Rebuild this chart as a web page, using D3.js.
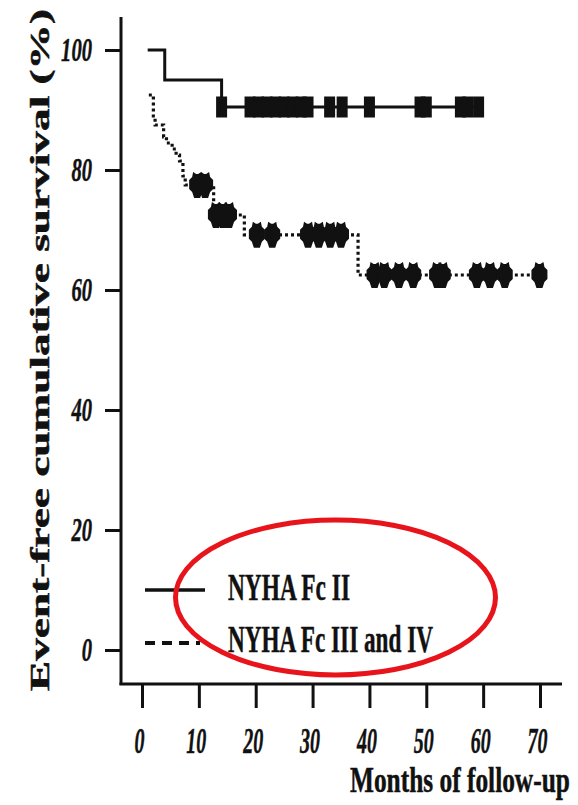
<!DOCTYPE html>
<html>
<head>
<meta charset="utf-8">
<script src="https://cdn.jsdelivr.net/npm/d3@7"></script>
<style>
  html, body { margin: 0; padding: 0; background: #fff; }
  svg { display: block; }
  text { font-family: "Liberation Serif", "Times New Roman", serif; fill: #111; stroke: #111; stroke-width: 0.5px; }
</style>
</head>
<body>
<svg id="chart" width="578" height="805"></svg>
<script>
// Kaplan-Meier step curves (months, event-free survival %)
const fc2Times = [1, 4, 14, 60];
const fc2Surv  = [100, 95, 90.5, 90.5];
const fc2Censored = [14, 19, 20.5, 22, 23.5, 25, 26.5, 28, 29.2, 33, 35.2, 40, 48.9, 50, 56, 57.3, 59.2];

const fc34Times = [1.2, 2.0, 2.3, 3.8, 4.3, 5.3, 6.0, 6.6, 7.2, 7.6, 12.6, 18.0, 38.0, 71.2];
const fc34Surv  = [92.5, 89, 87.5, 85.5, 84.5, 83.5, 82.5, 81.5, 79, 77.5, 72.5, 69.2, 62.5, 62.5];
const fc34Censored = [9.7, 11.1, 13, 14.2, 15.3, 20.2, 22.9, 29.2, 31.1, 33.1, 35,
                      40.9, 42.6, 45.2, 47.7, 51.9, 52.9, 58.9, 61.2, 63.8, 69.9];

const xTicks = [0, 10, 20, 30, 40, 50, 60, 70];
const yTicks = [0, 20, 40, 60, 80, 100];
const legendLabels = ["NYHA Fc II", "NYHA Fc III and IV"];
const xTitle = "Months of follow-up";
const yTitle = "Event-free cumulative survival (%)";

const svg = d3.select("#chart");
const x = d3.scaleLinear().domain([0, 70]).range([142, 540]);
const y = d3.scaleLinear().domain([0, 100]).range([650, 50]);

// survival value of a step curve at time t
function survAt(times, surv, t) {
  let v = surv[0];
  for (let i = 0; i < times.length; i++) if (times[i] <= t) v = surv[i];
  return v;
}

// condensed text: squeeze horizontally to a target width with a transform
function condensedText(parent, str, px, py, size, width, anchor) {
  const t = parent.append("text")
    .attr("font-size", size).attr("font-weight", "bold")
    .attr("text-anchor", anchor || "start")
    .text(str);
  const natural = t.node().getComputedTextLength();
  t.attr("transform", `translate(${px},${py}) scale(${width / natural},1)`);
  return t;
}

// axes lines
svg.append("line").attr("x1", 121).attr("x2", 121).attr("y1", 17).attr("y2", 685)
  .attr("stroke", "#111").attr("stroke-width", 3);
svg.append("line").attr("x1", 119.5).attr("x2", 562).attr("y1", 684).attr("y2", 684)
  .attr("stroke", "#111").attr("stroke-width", 3);

// y axis
const yAxis = svg.append("g").attr("transform", "translate(121,0)")
  .call(d3.axisLeft(y).tickValues(yTicks).tickSize(16).tickSizeOuter(0).tickPadding(13));
yAxis.select(".domain").remove();
yAxis.selectAll(".tick line").attr("stroke", "#111").attr("stroke-width", 3);
yAxis.selectAll(".tick text")
  .attr("font-family", "'Liberation Serif', 'Times New Roman', serif")
  .attr("font-size", 33).attr("font-weight", "bold").attr("font-style", "italic")
  .attr("fill", "#111").attr("dy", "0.33em")
  .attr("textLength", d => String(d).length * 10.3)
  .attr("lengthAdjust", "spacingAndGlyphs");

// x axis
const xAxis = svg.append("g").attr("transform", "translate(0,684)")
  .call(d3.axisBottom(x).tickValues(xTicks).tickSize(24).tickSizeOuter(0));
xAxis.select(".domain").remove();
xAxis.selectAll(".tick line").attr("stroke", "#111").attr("stroke-width", 3);
xAxis.selectAll(".tick text")
  .attr("font-family", "'Liberation Serif', 'Times New Roman', serif")
  .attr("font-size", 36).attr("font-weight", "bold").attr("font-style", "italic")
  .attr("fill", "#111").attr("y", 69).attr("dy", 0).attr("x", -3)
  .attr("textLength", d => String(d).length * 10)
  .attr("lengthAdjust", "spacingAndGlyphs");

// axis titles
svg.append("text")
  .attr("transform", "translate(49,350) rotate(-90)")
  .attr("text-anchor", "middle")
  .attr("font-size", 27).attr("font-weight", "bold")
  .attr("textLength", 682).attr("lengthAdjust", "spacingAndGlyphs")
  .text(yTitle);
condensedText(svg, xTitle, 350, 792, 36, 220);

// curves
const line = d3.line().x(d => x(d[0])).y(d => y(d[1])).curve(d3.curveStepAfter);
const fc2Pts = fc2Times.map((t, i) => [t, fc2Surv[i]]);
const fc34Pts = fc34Times.map((t, i) => [t, fc34Surv[i]]);

svg.append("path").datum(fc2Pts).attr("d", line)
  .attr("fill", "none").attr("stroke", "#111").attr("stroke-width", 3);
svg.append("path").datum(fc34Pts).attr("d", line)
  .attr("fill", "none").attr("stroke", "#111").attr("stroke-width", 3.2)
  .attr("stroke-dasharray", "3,3");

// censor marks: squares for Fc II
svg.append("g").selectAll("rect").data(fc2Censored).join("rect")
  .attr("x", d => x(d) - 5.5)
  .attr("y", d => y(survAt(fc2Times, fc2Surv, d)) - 10.5)
  .attr("width", 11).attr("height", 21)
  .attr("fill", "#111");

// censor marks: cross-shaped blobs for Fc III and IV
const crossPath = "M-4,-13 L-1,-11 L1,-11 L4,-13 L5,-8 L8,-5 L8,4 L5,7 L3,13 L-3,13 L-5,7 L-8,4 L-8,-5 L-5,-8 Z";
svg.append("g").selectAll("path").data(fc34Censored).join("path")
  .attr("transform", d => `translate(${x(d)},${y(survAt(fc34Times, fc34Surv, d))})`)
  .attr("d", crossPath)
  .attr("fill", "#111");

// legend
svg.append("line").attr("x1", 145).attr("x2", 205).attr("y1", 590).attr("y2", 590)
  .attr("stroke", "#111").attr("stroke-width", 3.5);
svg.append("line").attr("x1", 145).attr("x2", 200).attr("y1", 643).attr("y2", 643)
  .attr("stroke", "#111").attr("stroke-width", 4).attr("stroke-dasharray", "10,7");
condensedText(svg, legendLabels[0], 228, 600, 37, 122);
condensedText(svg, legendLabels[1], 228, 652, 37, 205);

// highlight ellipse around the legend
svg.append("ellipse").attr("cx", 335.5).attr("cy", 597.5).attr("rx", 160).attr("ry", 77.5)
  .attr("fill", "none").attr("stroke", "#e8141c").attr("stroke-width", 5);
</script>
</body>
</html>
